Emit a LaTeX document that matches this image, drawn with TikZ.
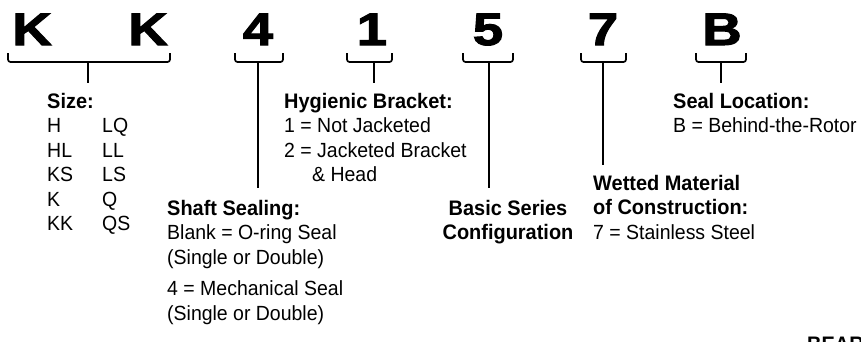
\documentclass[tikz,border=0pt]{standalone}
\usepackage{fontspec}
\setmainfont{Liberation Sans}[FakeStretch=0.95]
\newfontfamily\bigfont{Liberation Sans}[FakeBold=2.2]
\newcommand\bigch[1]{\scalebox{1.22}[1.02]{#1}}
\begin{document}
\begin{tikzpicture}[x=1pt,y=-1pt,
  letter/.style={font=\bigfont\bfseries\fontsize{44.7}{48}\selectfont, anchor=base, inner sep=0pt},
  brack/.style={line width=1.7pt, rounded corners=2.5pt},
  stem/.style={line width=1.7pt},
  lbl/.style={anchor=base west, inner sep=0pt, align=left, font=\fontsize{20.5}{24.5}\selectfont},
  hd/.style={font=\bfseries\fontsize{21}{24}\selectfont}]
\useasboundingbox (0,0) rectangle (861,341);
% code letters
\node[letter] (k1) at (32,45) {\bigch{K}};
\node[letter] (k2) at (148,45) {\bigch{K}};
\node[letter] (d4) at (258,45) {\bigch{4}};
\node[letter] (d1) at (372,45) {\bigch{1}};
\node[letter] (d5) at (488,45) {\bigch{5}};
\node[letter] (d7) at (603,45) {\bigch{7}};
\node[letter] (lb) at (722,45) {\bigch{B}};
% brackets
\draw[brack] (8,53) -- (8,62) -- (170,62) -- (170,53);
\draw[brack] (235,53) -- (235,62) -- (283,62) -- (283,53);
\draw[brack] (347,53) -- (347,62) -- (392,62) -- (392,53);
\draw[brack] (463,53) -- (463,62) -- (513,62) -- (513,53);
\draw[brack] (581,53) -- (581,62) -- (626,62) -- (626,53);
\draw[brack] (696,53) -- (696,62) -- (746,62) -- (746,53);
\coordinate (bkk) at (88,62);   \coordinate (ekk) at (88,83);
\coordinate (b4) at (258,62);   \coordinate (e4) at (258,188);
\coordinate (b1) at (374,62);   \coordinate (e1) at (374,83);
\coordinate (b5) at (489,62);   \coordinate (e5) at (489,188);
\coordinate (b7) at (603,62);   \coordinate (e7) at (603,165);
\coordinate (bb) at (721,62);   \coordinate (eb) at (721,83);
\draw[stem] (bkk) -- (ekk);
\draw[stem] (b4) -- (e4);
\draw[stem] (b1) -- (e1);
\draw[stem] (b5) -- (e5);
\draw[stem] (b7) -- (e7);
\draw[stem] (bb) -- (eb);
% labels
\node[lbl] (size) at (47,108) {\begin{tabular}[t]{@{}p{55pt}@{}l@{}}
\multicolumn{2}{@{}l@{}}{\bfseries\fontsize{21}{24}\selectfont Size:}\\
H & LQ\\ HL & LL\\ KS & LS\\ K & Q\\ KK & QS\end{tabular}};
\node[lbl] (hyg) at (284,108) {\begin{tabular}[t]{@{}l@{}}
{\bfseries\fontsize{21}{24}\selectfont Hygienic Bracket:}\\
1 = Not Jacketed\\ 2 = Jacketed Bracket\\ \hspace{28pt}\& Head\end{tabular}};
\node[lbl] (shaft) at (167,215) {\begin{tabular}[t]{@{}l@{}}
{\bfseries\fontsize{21}{24}\selectfont Shaft Sealing:}\\
Blank = O-ring Seal\\ (Single or Double)\\[7pt]
4 = Mechanical Seal\\ (Single or Double)\end{tabular}};
\node[lbl, anchor=base] (basic) at (508,215) {\begin{tabular}[t]{@{}c@{}}
\bfseries\fontsize{21}{24}\selectfont Basic Series\\
\bfseries\fontsize{21}{24}\selectfont Configuration\end{tabular}};
\node[lbl] (wet) at (593,190) {\begin{tabular}[t]{@{}l@{}}
{\bfseries\fontsize{21}{24}\selectfont Wetted Material}\\
{\bfseries\fontsize{21}{24}\selectfont of Construction:}\\
7 = Stainless Steel\end{tabular}};
\node[lbl] (seal) at (673,108) {\begin{tabular}[t]{@{}l@{}}
{\bfseries\fontsize{21}{24}\selectfont Seal Location:}\\
B = Behind-the-Rotor\end{tabular}};
\begin{scope}
\clip (0,0) rectangle (861,341);
\node[lbl, hd] (bear) at (807,351) {BEAR};
\end{scope}
\end{tikzpicture}
\end{document}
